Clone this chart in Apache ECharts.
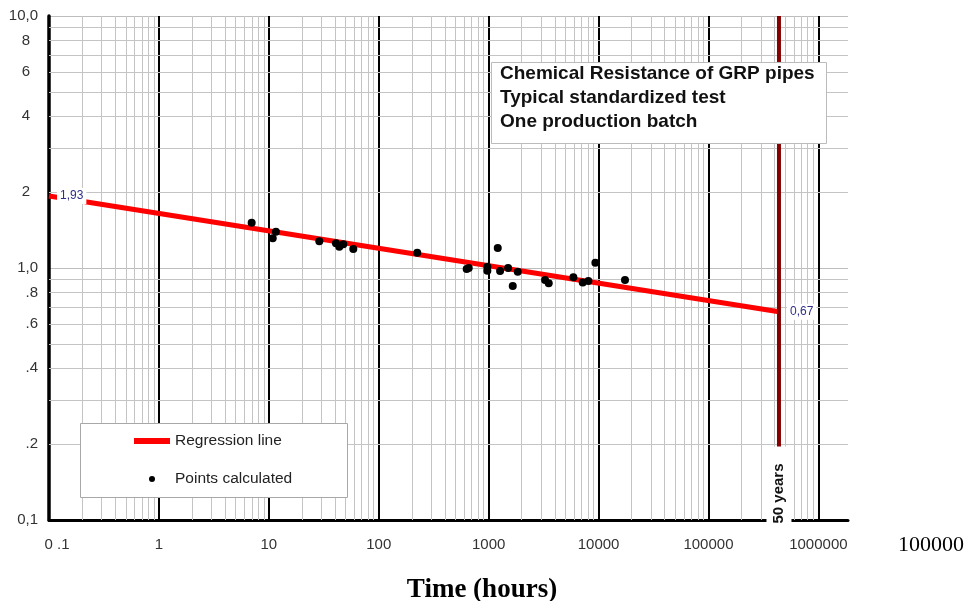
<!DOCTYPE html>
<html>
<head>
<meta charset="utf-8">
<title>Chemical Resistance of GRP pipes</title>
<script src="https://cdn.jsdelivr.net/npm/echarts@6.0.0/dist/echarts.min.js"></script>
<style>
    html, body { margin: 0; padding: 0; background: #fff; }
    #main { width: 967px; height: 601px; }
</style>
</head>
<body>
<div id="main"></div>
<script>
// measured points: time (hours) and value
var pointHours = [6.98, 10.85, 11.6, 28.8, 40.8, 43.8, 47.6, 58.7, 224, 631, 659, 973, 973,
    1210, 1271, 1503, 1657, 1840, 3260, 3520, 5900, 7180, 8080, 9360, 17400];
var pointValues = [1.513, 1.311, 1.393, 1.276, 1.253, 1.215, 1.242, 1.19, 1.15, 0.991, 1.0, 1.012, 0.976,
    1.2, 0.973, 1.0, 0.848, 0.967, 0.896, 0.87, 0.918, 0.875, 0.888, 1.05, 0.896];

// regression line, from 0.1 h to 50 years
var regHours = [0.1, 438000];
var regValues = [1.93, 0.67];
var regLabels = ['1,93', '0,67'];

var fiftyYearsHours = 438000;

// grid / tick labels
var xDecades = [0.1, 1, 10, 100, 1000, 10000, 100000];
var yDecades = [0.1, 1];
var minorSteps = [2, 3, 4, 5, 6, 7, 8, 9];
var yLabelValues = [0.2, 0.4, 0.6, 0.8, 2, 4, 6, 8];
var yLabelTexts = ['.2', '.4', '.6', '.8', '2', '4', '6', '8'];
var boxLines = ['Chemical Resistance of GRP pipes', 'Typical standardized test', 'One production batch'];

var sans = "'Liberation Sans', Arial, sans-serif";
var serif = "'Liberation Serif', 'Times New Roman', serif";

function minorValues(decades) {
    var out = [];
    decades.forEach(function (d) {
        minorSteps.forEach(function (m) {
            out.push(parseFloat((d * m).toPrecision(4)));
        });
    });
    return out;
}

var vLines = minorValues(xDecades).map(function (v) {
    return {xAxis: v};
});
var hLines = minorValues(yDecades).map(function (v) {
    var idx = yLabelValues.indexOf(v);
    return {
        yAxis: v,
        label: {
            show: idx >= 0,
            formatter: idx >= 0 ? yLabelTexts[idx] : '',
            distance: v >= 1 ? 19 : 11
        }
    };
});

var regData = regHours.map(function (h, i) {
    return {
        value: [h, regValues[i]],
        label: {
            show: true,
            formatter: regLabels[i],
            position: 'right',
            distance: 8,
            color: '#2e2e8a',
            fontSize: 12,
            fontFamily: sans,
            backgroundColor: '#fff',
            padding: [2, 3]
        }
    };
});

var chart = echarts.init(document.getElementById('main'));

chart.setOption({
    animation: false,
    grid: {left: 49, top: 16, right: 119, bottom: 81, outerBoundsMode: 'none'},
    xAxis: {
        type: 'log',
        logBase: 10,
        min: 0.1,
        max: 1.86e6,
        axisLine: {show: true, lineStyle: {color: '#000', width: 3}},
        axisTick: {show: false},
        splitLine: {show: true, showMinLine: false, showMaxLine: false, lineStyle: {color: '#000', width: 2}},
        axisLabel: {
            margin: 17,
            fontSize: 15,
            fontFamily: sans,
            color: '#333',
            showMaxLabel: false,
            formatter: function (v) {
                if (Math.abs(v - 0.1) < 1e-9) {
                    return '{a|0 .1}';
                }
                var l = Math.log10(v);
                if (Math.abs(l - Math.round(l)) > 1e-6) {
                    return '';
                }
                return String(Math.round(v));
            },
            rich: {a: {fontSize: 15, fontFamily: sans, color: '#333', padding: [0, 0, 0, 16]}}
        }
    },
    yAxis: {
        type: 'log',
        logBase: 10,
        min: 0.1,
        max: 10,
        axisLine: {show: true, lineStyle: {color: '#000', width: 3.5}},
        axisTick: {show: false},
        splitLine: {show: true, lineStyle: {color: '#bdbdbd', width: 1}},
        axisLabel: {
            margin: 11,
            fontSize: 15,
            fontFamily: sans,
            color: '#333',
            formatter: function (v) {
                if (v < 0.5) return '0,1';
                if (v < 5) return '1,0';
                return '10,0';
            }
        }
    },
    legend: {
        orient: 'vertical',
        left: 134,
        top: 432,
        padding: 0,
        itemWidth: 36,
        itemHeight: 6,
        itemGap: 20,
        selectedMode: false,
        z: 8,
        textStyle: {fontSize: 15.5, fontFamily: sans, color: '#222', lineHeight: 18},
        data: [
            {name: 'Regression line', icon: 'rect'},
            {name: 'Points calculated', icon: 'circle'}
        ]
    },
    graphic: [
        {
            type: 'rect', z: 7, silent: true,
            shape: {x: 80.5, y: 423.5, width: 267, height: 74},
            style: {fill: '#fff', stroke: '#a8a8a8', lineWidth: 1}
        },
        {
            type: 'rect', z: 10, silent: true,
            shape: {x: 491.5, y: 62.5, width: 335, height: 81},
            style: {fill: '#fff', stroke: '#bbb', lineWidth: 1}
        },
        {
            type: 'text', z: 11, silent: true,
            x: 500, y: 62,
            style: {
                text: boxLines.join('\n'),
                font: 'bold 19px ' + sans,
                lineHeight: 24,
                fill: '#111',
                align: 'left',
                verticalAlign: 'top'
            }
        },
        {
            type: 'text', silent: true,
            x: 482, y: 590,
            style: {
                text: 'Time (hours)',
                font: 'bold 27px ' + serif,
                fill: '#000',
                align: 'center',
                verticalAlign: 'middle'
            }
        },
        {
            type: 'text', silent: true,
            x: 931, y: 545,
            style: {
                text: '100000',
                font: '22px ' + serif,
                fill: '#000',
                align: 'center',
                verticalAlign: 'middle'
            }
        }
    ],
    series: [
        {
            name: 'grid',
            type: 'line',
            data: [],
            clip: false,
            silent: true,
            z: 1,
            markLine: {
                z: 1,
                silent: true,
                symbol: ['none', 'none'],
                animation: false,
                label: {show: false, position: 'start', fontSize: 15, fontFamily: sans, color: '#333'},
                lineStyle: {color: '#c4c4c4', width: 1, type: 'solid'},
                emphasis: {disabled: true},
                data: vLines.concat(hLines)
            }
        },
        {
            name: 'Regression line',
            type: 'line',
            data: regData,
            symbol: 'circle',
            symbolSize: 0,
            showSymbol: true,
            itemStyle: {color: '#ff0000'},
            lineStyle: {color: '#ff0000', width: 5},
            z: 3
        },
        {
            name: 'Points calculated',
            type: 'scatter',
            data: pointHours.map(function (h, i) { return [h, pointValues[i]]; }),
            symbol: 'circle',
            symbolSize: 8,
            itemStyle: {color: '#000', opacity: 1},
            z: 4
        },
        {
            name: '50 years',
            type: 'line',
            data: [[fiftyYearsHours, 10], [fiftyYearsHours, 0.1]],
            showSymbol: false,
            lineStyle: {color: '#850000', width: 4},
            z: 4
        },
        {
            name: '50 years label',
            type: 'scatter',
            data: [[fiftyYearsHours, 0.1346]],
            symbolSize: 0,
            z: 5,
            itemStyle: {opacity: 1},
            label: {
                show: true,
                position: 'inside',
                rotate: 90,
                formatter: '50 years',
                fontSize: 15,
                fontWeight: 'bold',
                fontFamily: sans,
                color: '#111',
                opacity: 1,
                backgroundColor: '#fff',
                padding: [5, 17, 5, 5]
            }
        }
    ]
});
</script>
</body>
</html>
